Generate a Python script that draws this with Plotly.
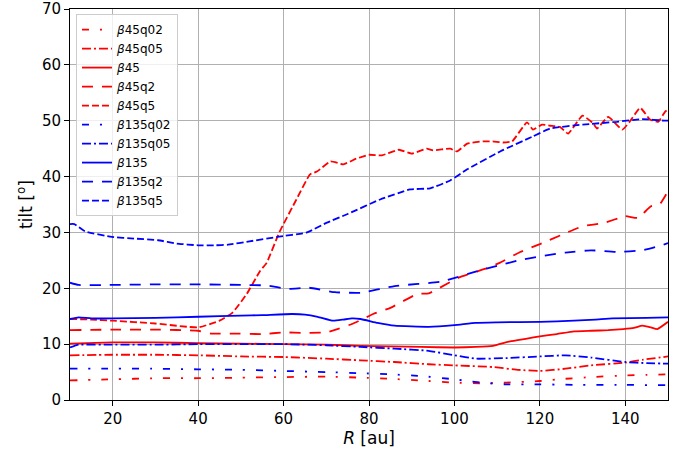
import plotly.graph_objects as go

# ---- data ----
r_b45q02 = [10, 20, 30, 40, 50, 60, 70, 78, 85, 92, 100, 106, 112, 120, 126, 132, 140, 145, 150]
t_b45q02 = [3.5, 3.7, 3.9, 3.9, 4.0, 4.1, 4.2, 4.0, 3.8, 3.5, 3.1, 3.0, 3.1, 3.4, 3.8, 4.1, 4.4, 4.5, 4.6]

r_b45q05 = [10, 20, 30, 40, 50, 60, 70, 78, 86, 94, 100, 109, 115, 120, 126, 132, 140, 144, 150]
t_b45q05 = [8.0, 8.1, 8.1, 8.0, 7.8, 7.7, 7.4, 7.1, 6.8, 6.4, 6.2, 5.9, 5.4, 5.2, 5.6, 6.2, 6.7, 7.2, 7.8]

r_b45 = [10, 20, 30, 40, 50, 60, 70, 78, 85, 92, 100, 105, 109, 113, 117, 120, 124, 128, 132,
         136, 139.5, 142, 144, 146, 147.5, 150]
t_b45 = [10.1, 10.3, 10.3, 10.2, 10.1, 10.0, 9.9, 9.7, 9.6, 9.5, 9.4, 9.5, 9.7, 10.5, 11.0, 11.4,
         11.8, 12.3, 12.4, 12.5, 12.7, 12.9, 13.3, 13.0, 12.7, 14.0]

r_b45q2 = [10, 20, 30, 40, 43, 48, 55, 60, 65, 70, 73, 76, 78, 81, 85, 88, 91.3, 94, 96.6, 101,
           107.6, 110.7, 115.4, 120, 125.5, 130, 135, 140, 143, 146, 148, 150]
t_b45q2 = [12.5, 12.6, 12.6, 12.4, 11.9, 11.9, 11.8, 12.1, 12.0, 12.1, 12.8, 13.6, 14.3, 15.4,
           16.5, 17.7, 19.0, 19.1, 20.1, 21.9, 23.6, 24.6, 26.5, 27.9, 29.7, 31.1, 31.7, 32.9,
           32.6, 34.7, 35.0, 37.4]

r_b45q5 = [10, 15, 20, 30, 40, 45, 48, 51.4, 54.5, 56, 59, 63, 66.2, 67.8, 71, 74, 77, 80, 83,
           87, 90, 93.5, 95, 99, 100.6, 103, 106.7, 109, 111.4, 113.5, 117, 118.4, 120.5, 122.4,
           124.7, 126.6, 130, 132.5, 133.4, 136, 139.3, 141, 143.5, 145.8, 147.7, 149.3, 150]
t_b45q5 = [14.5, 14.4, 14.2, 13.7, 13.0, 14.2, 15.6, 19.0, 23.1, 24.5, 30.0, 35.9, 40.4, 40.9,
           42.7, 42.2, 43.2, 43.9, 43.8, 44.8, 44.1, 45.0, 44.7, 45.0, 44.5, 45.9, 46.3, 46.3,
           46.1, 46.3, 49.7, 48.4, 49.3, 49.1, 48.9, 47.7, 50.9, 49.5, 48.6, 50.7, 48.4, 49.8,
           52.3, 50.2, 49.8, 51.6, 52.0]

r_b135q02 = [10, 20, 30, 40, 50, 60, 70, 78, 85, 92, 100, 104, 108, 112, 120, 130, 140, 150]
t_b135q02 = [5.6, 5.6, 5.6, 5.5, 5.4, 5.2, 5.0, 4.8, 4.6, 4.3, 3.7, 3.3, 3.0, 2.8, 2.8, 2.7, 2.7, 2.65]

r_b135q05 = [10, 12, 20, 30, 40, 50, 60, 70, 78, 86, 94, 100, 105, 112, 120, 126, 132, 140, 145, 150]
t_b135q05 = [9.4, 9.9, 9.9, 9.9, 10.0, 10.0, 10.0, 9.8, 9.5, 9.2, 8.8, 8.0, 7.4, 7.5, 7.8, 8.0,
             7.6, 6.8, 6.6, 6.5]

r_b135 = [10, 12, 15, 20, 30, 40, 50, 55, 62, 65, 68, 71.6, 74, 76, 78, 82, 86, 94, 100, 105,
          110, 120, 128, 133, 137, 145, 150]
t_b135 = [14.5, 14.8, 14.6, 14.6, 14.7, 14.9, 15.1, 15.2, 15.4, 15.3, 14.9, 14.2, 14.4, 14.6,
          14.5, 13.8, 13.3, 13.1, 13.4, 13.8, 13.9, 14.0, 14.2, 14.4, 14.6, 14.7, 14.8]

r_b135q2 = [10, 12, 20, 30, 40, 50, 56, 61, 66, 72, 78, 86, 97, 105, 110, 115, 120, 126, 132,
            138, 144, 149, 150]
t_b135q2 = [21.0, 20.6, 20.6, 20.7, 20.7, 20.6, 20.5, 19.9, 20.1, 19.3, 19.2, 20.4, 21.2, 23.0,
            24.0, 25.0, 25.7, 26.4, 26.8, 26.5, 26.8, 27.8, 28.1]

r_b135q5 = [10, 11, 13.5, 19.8, 25, 30.6, 35, 40, 44, 47, 52, 58.5, 65.5, 70, 75, 82.6, 89.6,
            94.3, 99, 103, 110.7, 118.4, 122.4, 130, 138, 144, 149.3, 150]
t_b135q5 = [31.5, 31.5, 30.2, 29.2, 28.9, 28.6, 28.0, 27.7, 27.7, 27.8, 28.4, 29.2, 30.0, 31.7,
            33.3, 35.9, 37.7, 37.9, 39.3, 41.3, 44.5, 47.2, 48.6, 49.3, 49.8, 50.3, 50.0, 50.0]

labels = ["β45q02", "β45q05", "β45", "β45q2", "β45q5",
          "β135q02", "β135q05", "β135", "β135q2", "β135q5"]

series = [
    (r_b45q02, t_b45q02, "#ff0000", "7px,11px,2px,11px"),
    (r_b45q05, t_b45q05, "#ff0000", "9px,3px,2px,3px"),
    (r_b45, t_b45, "#ff0000", "solid"),
    (r_b45q2, t_b45q2, "#ff0000", "11px,9px"),
    (r_b45q5, t_b45q5, "#ff0000", "7px,3px"),
    (r_b135q02, t_b135q02, "#0000ff", "7px,11px,2px,11px"),
    (r_b135q05, t_b135q05, "#0000ff", "9px,3px,2px,3px"),
    (r_b135, t_b135, "#0000ff", "solid"),
    (r_b135q2, t_b135q2, "#0000ff", "11px,9px"),
    (r_b135q5, t_b135q5, "#0000ff", "7px,3px"),
]

fig = go.Figure()
for lab, (xs, ys, col, dash) in zip(labels, series):
    name = "<i>β</i>" + lab[1:]
    fig.add_trace(go.Scatter(
        x=xs, y=ys, mode="lines", name=name,
        line=dict(color=col, width=1.8, dash=dash, shape="spline", smoothing=0.4),
    ))

axis_common = dict(
    showline=True, linecolor="black", linewidth=1, mirror=True,
    showgrid=True, gridcolor="#b0b0b0", gridwidth=1,
    ticks="outside", ticklen=5, tickwidth=1, tickcolor="black",
    zeroline=False, automargin=False, ticklabeloverflow="allow",
    tickfont=dict(family="DejaVu Sans", size=15, color="black"),
)

fig.update_xaxes(range=[10, 150], tick0=0, dtick=20,
                 title=dict(text="<i>R</i> [au]", font=dict(family="DejaVu Sans", size=17, color="black"),
                            standoff=4),
                 **axis_common)
fig.update_yaxes(range=[0, 70], tick0=0, dtick=10,
                 title=dict(text="tilt [<sup>o</sup>]", font=dict(family="DejaVu Sans", size=17, color="black"),
                            standoff=4),
                 **axis_common)

fig.update_layout(
    template="none",
    width=691, height=454,
    margin=dict(l=70, r=23, t=9, b=54, autoexpand=False),
    paper_bgcolor="white", plot_bgcolor="white",
    font=dict(family="DejaVu Sans", color="black"),
    legend=dict(
        x=0.01, y=0.987, xanchor="left", yanchor="top",
        bgcolor="rgba(255,255,255,0.8)", bordercolor="#cccccc", borderwidth=1,
        font=dict(family="DejaVu Sans", size=12, color="black"),
        tracegroupgap=0,
    ),
    showlegend=True,
)

fig.write_html(
    "out.html",
    config={"displayModeBar": False},
    post_script="document.body.style.margin='0';document.body.style.padding='0';",
)
